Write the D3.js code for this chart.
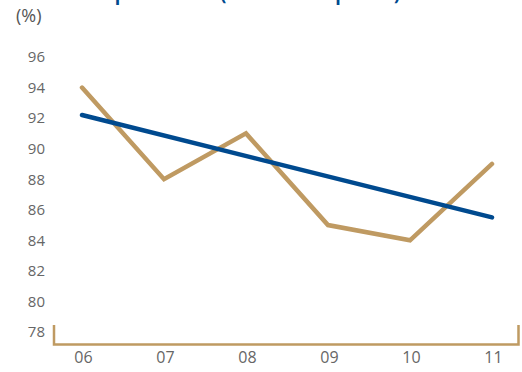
<!DOCTYPE html>
<html>
<head>
<meta charset="utf-8">
<script src="https://cdn.jsdelivr.net/npm/d3@7"></script>
<style>
  body { margin: 0; background: #fff; }
  svg { display: block; font-family: "Open Sans", sans-serif; }
</style>
</head>
<body>
<svg id="chart"></svg>
<script>
// Data
const years = ['06', '07', '08', '09', '10', '11'];
const rateValues = [94, 88, 91, 85, 84, 89];
const trendYears = ['06', '11'];
const trendValues = [92.2, 85.5];
const yTicks = [78, 80, 82, 84, 86, 88, 90, 92, 94, 96];

const width = 522;
const height = 372;
const gold = '#BF9A62';
const blue = '#004A8F';

const svg = d3.select('#chart').attr('width', width).attr('height', height);

// Scales
const x = d3.scalePoint().domain(years).range([82, 492]);
const y = d3.scaleLinear().domain([78, 96]).range([332, 57]);

// Title, cut off at the top edge (only its descenders show)
svg.append('text')
  .attr('x', 70)
  .attr('y', 0)
  .attr('fill', blue)
  .attr('textLength', 330)
  .attr('lengthAdjust', 'spacingAndGlyphs')
  .style('font-size', '20px')
  .style('font-weight', 'bold')
  .text('Occupation rate (annual occupation)');

// Unit label
svg.append('text')
  .attr('x', 16)
  .attr('y', 22)
  .attr('fill', '#555')
  .style('font-size', '18px')
  .text('(%)');

// Y axis (labels only)
const yAxis = svg.append('g')
  .attr('transform', 'translate(45,0)')
  .call(d3.axisLeft(y).tickValues(yTicks).tickSize(0).tickPadding(0));
yAxis.select('.domain').remove();
yAxis.selectAll('text')
  .attr('fill', '#666')
  .style('font-family', '"Open Sans", sans-serif')
  .style('font-size', '15px');

// X axis labels
const xAxis = svg.append('g')
  .attr('transform', 'translate(1,352)')
  .call(d3.axisBottom(x).tickSize(0).tickPadding(0));
xAxis.select('.domain').remove();
xAxis.selectAll('text')
  .attr('fill', '#666')
  .style('font-family', '"Open Sans", sans-serif')
  .style('font-size', '16px');

// Gold bracket frame at the bottom
svg.append('path')
  .attr('d', 'M54,325V344.5H518.5V325')
  .attr('fill', 'none')
  .attr('stroke', gold)
  .attr('stroke-width', 2.5);

// Gold line: the rate
const line = d3.line()
  .x((d, i) => x(years[i]))
  .y(d => y(d));

svg.append('path')
  .datum(rateValues)
  .attr('d', line)
  .attr('fill', 'none')
  .attr('stroke', gold)
  .attr('stroke-width', 4.5)
  .attr('stroke-linecap', 'round')
  .attr('stroke-linejoin', 'miter');

// Blue trend line
const trendLine = d3.line()
  .x((d, i) => x(trendYears[i]))
  .y(d => y(d));

svg.append('path')
  .datum(trendValues)
  .attr('d', trendLine)
  .attr('fill', 'none')
  .attr('stroke', blue)
  .attr('stroke-width', 4.5)
  .attr('stroke-linecap', 'round');
</script>
</body>
</html>
